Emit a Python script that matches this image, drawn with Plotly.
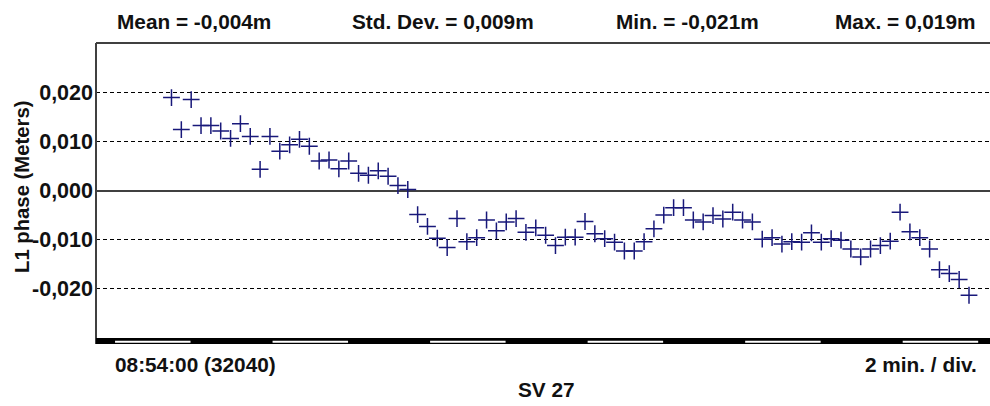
import plotly.graph_objects as go

# GPS epochs (seconds of day) and L1 phase residuals (metres) for SV 27
epoch_sec = [
    32155, 32170, 32185, 32200, 32215, 32230, 32245, 32260, 32275, 32290,
    32305, 32320, 32335, 32350, 32365, 32380, 32395, 32410, 32425, 32440,
    32455, 32470, 32485, 32500, 32515, 32530, 32545, 32560, 32575, 32590,
    32605, 32620, 32635, 32650, 32665, 32680, 32695, 32710, 32725, 32740,
    32755, 32770, 32785, 32800, 32815, 32830, 32845, 32860, 32875, 32890,
    32905, 32920, 32935, 32950, 32965, 32980, 32995, 33010, 33025, 33040,
    33055, 33070, 33085, 33100, 33115, 33130, 33145, 33160, 33175, 33190,
    33205, 33220, 33235, 33250, 33265, 33280, 33295, 33310, 33325, 33340,
    33355, 33370,
]
l1_phase_m = [
    0.0189, 0.0124, 0.0185, 0.0132, 0.0132, 0.0121, 0.0106, 0.0136, 0.0110, 0.0043,
    0.0110, 0.0080, 0.0093, 0.0104, 0.0090, 0.0060, 0.0062, 0.0044, 0.0060, 0.0035,
    0.0031, 0.0040, 0.0029, 0.0010, 0.0002, -0.0049, -0.0073, -0.0097, -0.0116, -0.0057,
    -0.0104, -0.0096, -0.0060, -0.0082, -0.0064, -0.0057, -0.0085, -0.0076, -0.0091, -0.0112,
    -0.0095, -0.0095, -0.0063, -0.0088, -0.0098, -0.0105, -0.0123, -0.0123, -0.0104, -0.0078,
    -0.0050, -0.0035, -0.0035, -0.0060, -0.0064, -0.0051, -0.0058, -0.0044, -0.0060, -0.0064,
    -0.0099, -0.0096, -0.0109, -0.0104, -0.0105, -0.0086, -0.0105, -0.0098, -0.0101, -0.0119,
    -0.0135, -0.0119, -0.0112, -0.0103, -0.0044, -0.0084, -0.0096, -0.0119, -0.0161, -0.0169,
    -0.0181, -0.0213,
]

y_ticks = [-0.02, -0.01, 0.0, 0.01, 0.02]
y_tick_text = ["-0,020", "-0,010", "0,000", "0,010", "0,020"]

stats_text = ["Mean = -0,004m", "Std. Dev. = 0,009m", "Min. = -0,021m", "Max. = 0,019m"]
start_label = "08:54:00 (32040)"
scale_label = "2 min. / div."
sat_label = "SV 27"
y_title = "L1 phase (Meters)"

T_START, T_END = 32040, 33402
DIV_SEC = 120

FONT = "Liberation Sans, Arial, sans-serif"
W, H = 990, 406
ML, MR, MT, MB = 96, 0, 43, 68
PW, PH = W - ML - MR, H - MT - MB


def px_x(px):
    return (px - ML) / PW


def px_y(py):
    return (H - MB - py) / PH


def t_paper(t):
    return (t - T_START) / (T_END - T_START)


fig = go.Figure()
fig.add_trace(go.Scatter(
    x=epoch_sec, y=l1_phase_m, mode="markers",
    marker=dict(symbol="cross-thin", size=12, color="#18187a",
                line=dict(color="#18187a", width=1.5)),
    hoverinfo="x+y", showlegend=False,
))

shapes = []
# frame: top, left and bottom edges
line_col = "#404040"
shapes.append(dict(type="line", xref="paper", yref="paper", x0=0, x1=1, y0=1, y1=1,
                   line=dict(color=line_col, width=2)))
shapes.append(dict(type="line", xref="paper", yref="paper", x0=0, x1=0, y0=-0.02, y1=1,
                   line=dict(color=line_col, width=2)))
# time bar below the plot: black band with white stripes every other division
shapes.append(dict(type="rect", xref="paper", yref="paper",
                   x0=0, x1=1.01, y0=px_y(344), y1=px_y(338),
                   fillcolor="black", line=dict(width=0)))
t = 32069
while t < T_END:
    shapes.append(dict(type="rect", xref="paper", yref="paper",
                       x0=t_paper(t), x1=min(t_paper(t + 115), 1.0),
                       y0=px_y(342.7), y1=px_y(340.7),
                       fillcolor="white", line=dict(width=0)))
    t += 2 * DIV_SEC

annotations = []
text_font = dict(family=FONT, size=20.8, color="#111111", weight="bold")
title_font = dict(family=FONT, size=20.3, color="#111111", weight="bold")
for txt, px, anchor in zip(stats_text, [115, 350, 614, 977], ["left", "left", "left", "right"]):
    annotations.append(dict(text=txt, xref="paper", yref="paper", x=px_x(px), y=px_y(21),
                            xanchor=anchor, yanchor="middle", showarrow=False, font=text_font))
annotations.append(dict(text=start_label, xref="paper", yref="paper", x=px_x(113), y=px_y(364),
                        xanchor="left", yanchor="middle", showarrow=False, font=text_font))
annotations.append(dict(text=scale_label, xref="paper", yref="paper", x=px_x(979), y=px_y(364),
                        xanchor="right", yanchor="middle", showarrow=False, font=text_font))
annotations.append(dict(text=sat_label, xref="paper", yref="paper", x=px_x(546), y=px_y(389),
                        xanchor="center", yanchor="middle", showarrow=False, font=text_font))
annotations.append(dict(text=y_title, xref="paper", yref="paper", x=px_x(22), y=px_y(187),
                        xanchor="center", yanchor="middle", textangle=-90, showarrow=False,
                        font=title_font))

fig.update_layout(
    width=W, height=H,
    margin=dict(l=ML, r=MR, t=MT, b=MB, pad=0),
    paper_bgcolor="white", plot_bgcolor="white",
    shapes=shapes, annotations=annotations,
    xaxis=dict(range=[T_START, T_END], showticklabels=False, showgrid=False,
               zeroline=False, showline=False, ticks=""),
    yaxis=dict(range=[-0.030, 0.030], tickvals=y_ticks, ticktext=y_tick_text,
               showgrid=True, gridcolor="black", gridwidth=1, griddash="4px,3px",
               zeroline=True, zerolinecolor=line_col, zerolinewidth=2,
               showline=False, ticks="", ticklabelstandoff=2,
               tickfont=dict(family=FONT, size=21.5, color="#111111", weight="bold")),
)

fig.write_html("out.html")
